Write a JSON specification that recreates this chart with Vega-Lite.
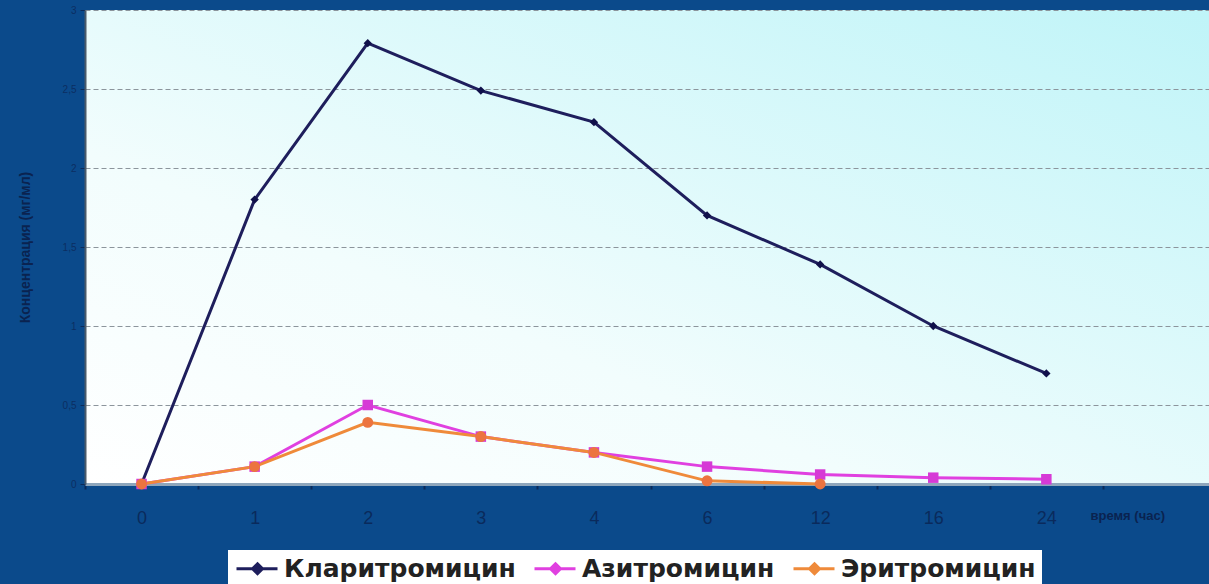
{
  "$schema": "https://vega.github.io/schema/vega-lite/v6.json",
  "autosize": {"type": "none"},
  "padding": {"left": 85, "top": 10, "right": 0, "bottom": 100},
  "width": 1124,
  "height": 474,
  "background": "#0b4a8b",
  "config": {
    "font": "Liberation Sans",
    "view": {
      "stroke": null,
      "fill": {"gradient": "linear", "x1": 0, "y1": 1, "x2": 1, "y2": 0,
        "stops": [{"offset": 0, "color": "#ffffff"}, {"offset": 0.35, "color": "#f2fdfd"}, {"offset": 1, "color": "#bff4f8"}]}
    }
  },
  "data": {
    "values": [
      {"t": "0", "drug": "Кларитромицин", "c": 0},
      {"t": "1", "drug": "Кларитромицин", "c": 1.8},
      {"t": "2", "drug": "Кларитромицин", "c": 2.79},
      {"t": "3", "drug": "Кларитромицин", "c": 2.49},
      {"t": "4", "drug": "Кларитромицин", "c": 2.29},
      {"t": "6", "drug": "Кларитромицин", "c": 1.7},
      {"t": "12", "drug": "Кларитромицин", "c": 1.39},
      {"t": "16", "drug": "Кларитромицин", "c": 1.0},
      {"t": "24", "drug": "Кларитромицин", "c": 0.7},
      {"t": "0", "drug": "Азитромицин", "c": 0},
      {"t": "1", "drug": "Азитромицин", "c": 0.11},
      {"t": "2", "drug": "Азитромицин", "c": 0.5},
      {"t": "3", "drug": "Азитромицин", "c": 0.3},
      {"t": "4", "drug": "Азитромицин", "c": 0.2},
      {"t": "6", "drug": "Азитромицин", "c": 0.11},
      {"t": "12", "drug": "Азитромицин", "c": 0.06},
      {"t": "16", "drug": "Азитромицин", "c": 0.04},
      {"t": "24", "drug": "Азитромицин", "c": 0.03},
      {"t": "0", "drug": "Эритромицин", "c": 0},
      {"t": "1", "drug": "Эритромицин", "c": 0.11},
      {"t": "2", "drug": "Эритромицин", "c": 0.39},
      {"t": "3", "drug": "Эритромицин", "c": 0.3},
      {"t": "4", "drug": "Эритромицин", "c": 0.2},
      {"t": "6", "drug": "Эритромицин", "c": 0.02},
      {"t": "12", "drug": "Эритромицин", "c": 0.0}
    ]
  },
  "encoding": {
    "x": {
      "field": "t", "type": "ordinal", "sort": null, "bandPosition": 0.5,
      "scale": {"type": "band", "domain": ["0","1","2","3","4","6","12","16","24"," "], "range": [0, 1131], "paddingInner": 0, "paddingOuter": 0},
      "axis": {
        "title": "время (час)", "titleX": 1005, "titleY": 31, "titleAlign": "left", "titleBaseline": "middle",
        "titleFontSize": 13, "titleFontWeight": "bold", "titleColor": "#0a2350",
        "labelAngle": 0, "labelFontSize": 18, "labelColor": "#0a2a5c", "labelPadding": 20,
        "tickBand": "extent", "tickSize": 5, "tickWidth": 2, "tickColor": "#0a2a5a",
        "domainColor": "#8ea6bc", "domainWidth": 3, "grid": false
      }
    },
    "y": {
      "field": "c", "type": "quantitative",
      "scale": {"domain": [0, 3], "nice": false},
      "axis": {
        "title": "Концентрация (мг/мл)", "titleX": -60, "titleY": 237, "titleAngle": -90,
        "titleAlign": "center", "titleBaseline": "middle", "titleFontSize": 14, "titleFontWeight": "bold", "titleColor": "#0a2350",
        "values": [0, 0.5, 1, 1.5, 2, 2.5, 3],
        "labelExpr": "replace(format(datum.value, '.1~f'), '.', ',')",
        "labelFontSize": 10, "labelColor": "#0c2e62", "labelPadding": 4,
        "tickSize": 5, "tickColor": "#0a2a5a",
        "domainColor": "#4a5a6a", "domainWidth": 2,
        "grid": true, "gridColor": "#8c959c", "gridDash": [5, 3], "gridWidth": 1
      }
    },
    "color": {
      "field": "drug", "type": "nominal",
      "scale": {"domain": ["Кларитромицин", "Азитромицин", "Эритромицин"], "range": ["#1e1e5c", "#e040e0", "#ef8a3a"]},
      "legend": {
        "title": null, "orient": "none", "direction": "horizontal", "legendX": 143, "legendY": 540,
        "fillColor": "#ffffff", "padding": 6, "columnPadding": 12, "labelLimit": 500,
        "labelFontSize": 25, "labelFontWeight": "bold", "labelColor": "#222222", "labelFont": "DejaVu Sans",
        "symbolType": "M-1,0H3.1M1.1,-0.5L1.6,0L1.1,0.5L0.6,0Z", "symbolSize": 400, "symbolStrokeWidth": 3,
        "labelOffset": 25,
        "encode": {"symbols": {"update": {"stroke": {"scale": "color", "field": "value"}, "fill": {"scale": "color", "field": "value"}, "strokeWidth": {"value": 3}, "opacity": {"value": 1}}}}
      }
    }
  },
  "layer": [
    {"mark": {"type": "line", "strokeWidth": 3}},
    {
      "transform": [{"filter": "datum.drug === 'Кларитромицин'"}],
      "mark": {"type": "point", "filled": true, "opacity": 1, "shape": "diamond", "size": 70, "fill": "#10104a"}
    },
    {
      "transform": [{"filter": "datum.drug === 'Азитромицин'"}],
      "mark": {"type": "point", "filled": true, "opacity": 1, "shape": "square", "size": 110, "fill": "#d63ad6"}
    },
    {
      "transform": [{"filter": "datum.drug === 'Эритромицин'"}],
      "mark": {"type": "point", "filled": true, "opacity": 1, "shape": "circle", "size": 120, "fill": "#ec7440"}
    }
  ]
}
